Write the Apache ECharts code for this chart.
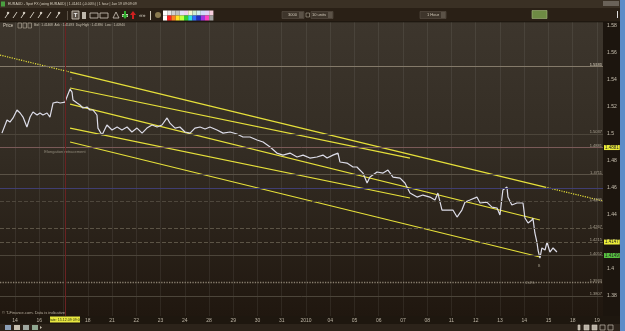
<!DOCTYPE html>
<html><head><meta charset="utf-8">
<script src="https://cdn.jsdelivr.net/npm/echarts@6/dist/echarts.min.js"></script>
<style>html,body{margin:0;padding:0;background:#2a2118;}#c{width:625px;height:331px;}</style>
</head><body><div id="c"></div>
<script>
// ---------- data ----------
const dayLabels = ['14','16','17','18','21','22','23','24','28','29','30','31','2010','04','05','06','07','08','11','12','13','14','15','18','19'];
const priceTicks = [1.38,1.40,1.42,1.44,1.46,1.48,1.50,1.52,1.54,1.56,1.58];
// trading days since first label, and price
const t = [-0.54,-0.41,-0.33,-0.21,-0.08,0.08,0.21,0.33,0.49,0.62,0.74,0.91,1.03,1.15,1.32,1.44,1.57,1.73,1.86,2.06,2.14,2.27,2.35,2.39,2.56,2.68,2.80,2.97,3.09,3.22,3.38,3.42,3.59,3.79,4.00,4.21,4.41,4.62,4.82,5.03,5.24,5.44,5.65,5.86,6.06,6.27,6.39,6.60,6.80,7.01,7.22,7.42,7.63,7.84,8.04,8.33,8.58,8.87,9.15,9.40,9.69,9.98,10.23,10.52,10.80,11.05,11.34,11.63,11.88,12.16,12.45,12.70,12.87,13.11,13.32,13.40,13.69,13.94,14.10,14.35,14.52,14.64,14.93,15.18,15.38,15.59,15.88,16.08,16.29,16.58,16.82,17.11,17.32,17.44,17.61,17.81,18.06,18.23,18.43,18.56,18.76,19.05,19.18,19.46,19.67,19.88,20.00,20.12,20.29,20.33,20.49,20.70,20.95,21.03,21.16,21.32,21.36,21.44,21.53,21.57,21.65,21.73,21.86,21.94,22.06,22.19,22.35];
const price = [1.5007,1.5067,1.5104,1.5089,1.5119,1.5178,1.5156,1.5126,1.5052,1.5126,1.5163,1.5141,1.5156,1.5141,1.5156,1.5126,1.5230,1.5237,1.5230,1.5237,1.5274,1.5333,1.5311,1.5252,1.5230,1.5215,1.5193,1.5200,1.5178,1.5178,1.5141,1.5044,1.4993,1.5067,1.5030,1.5052,1.5030,1.5052,1.5015,1.5044,1.5007,1.5044,1.5067,1.5052,1.5067,1.5119,1.5081,1.5044,1.5052,1.5015,1.5007,1.5044,1.5052,1.5037,1.5052,1.5030,1.5007,1.5015,1.5000,1.4978,1.4978,1.4956,1.4941,1.4904,1.4859,1.4844,1.4859,1.4830,1.4844,1.4822,1.4830,1.4844,1.4822,1.4844,1.4859,1.4793,1.4785,1.4756,1.4756,1.4711,1.4637,1.4681,1.4719,1.4711,1.4733,1.4681,1.4674,1.4637,1.4563,1.4533,1.4548,1.4533,1.4511,1.4563,1.4437,1.4437,1.4437,1.4385,1.4437,1.4496,1.4511,1.4533,1.4489,1.4496,1.4459,1.4452,1.4400,1.4585,1.4607,1.4533,1.4474,1.4489,1.4489,1.4378,1.4341,1.4363,1.4378,1.4267,1.4193,1.4141,1.4081,1.4156,1.4141,1.4200,1.4126,1.4156,1.4126];
// trend lines [t, price] end points
const rayLeft  = [[-0.62,1.5585],[2.27,1.5459]];
const rayMain  = [[2.27,1.5459],[21.86,1.4607]];
const rayRight = [[21.86,1.4607],[24.25,1.4504]];
const fork2 = [[2.27,1.5341],[16.29,1.4822]];
const fork3 = [[2.27,1.5222],[21.65,1.4363]];
const fork4 = [[2.27,1.5044],[16.29,1.4526]];
const fork5 = [[2.27,1.4941],[21.65,1.4089]];
// horizontal level lines
const levels = [1.5533,1.5481,1.5037,1.5000,1.4881,1.4711,1.4489,1.4267,1.4215,1.4052,1.3933,1.3807];
const levelLabels = ['1.5533','1.5481','1.5037','','1.4881','1.4711','1.4489','1.4267','1.4215','1.4052','1.3933','1.3807'];
const crossT = 2.06, crossP = 1.4593;
const bidLabel = '1.4147', askLabel = '1.4149', markLabel = '1.4881';
const bidP = 1.4152, askP = 1.4120;
const notes = [{name:'0', value:[2.31,1.5407]},{name:'B', value:[21.61,1.4022]},{name:'2.4%', value:[21.24,1.3896]},{name:'Elongation retracement', value:[2.06,1.4870]}];

// ---------- styles ----------
const FONT = 'Liberation Sans';
const levelStyles = [
 {color:'#7a7062',type:'dashed',width:1},{color:'#847a6a',type:'solid',width:1},{color:'#6c6354',type:'solid',width:1},
 {color:'#4c453a',type:'solid',width:1},{color:'#7a5a58',type:'solid',width:1},{color:'#5a5246',type:'solid',width:1},
 {color:'#4e473c',type:'dashed',width:1},{color:'#5c5446',type:'dashed',width:1},{color:'#5c5446',type:'dashed',width:1},
 {color:'#4c453a',type:'solid',width:1},{color:'#8a8070',type:'dotted',width:1.3},{color:'#4c453a',type:'solid',width:1}
];
const YEL = '#e6e03a';

const markData = [];
dayLabels.forEach((_,i)=>markData.push({xAxis:i, lineStyle:{color:'rgba(255,255,255,0.07)',type:'solid',width:1}, label:{show:false}}));
levels.forEach((v,i)=>markData.push({yAxis:v, lineStyle:levelStyles[i], label:{show:!!levelLabels[i], formatter:levelLabels[i]||' ', position:'insideEndTop', color:'#aaa292', fontSize:4, fontFamily:FONT, distance:[1,0]}}));
markData.push({xAxis:crossT, lineStyle:{color:'#6a2222',type:'solid',width:1}, label:{show:false}});
markData.push({yAxis:crossP, lineStyle:{color:'#403e72',type:'solid',width:1}, label:{show:false}});
const boxLine = {color:'rgba(0,0,0,0)', width:0};
markData.push({yAxis:1.4881, lineStyle:boxLine, label:{show:true, position:'end', formatter:markLabel, backgroundColor:'#ecec3a', color:'#222', fontSize:4.5, fontFamily:FONT, padding:[0,1], distance:1}});
markData.push({yAxis:bidP, lineStyle:boxLine, label:{show:true, position:'end', formatter:bidLabel, backgroundColor:'#ecec3a', color:'#222', fontSize:4.5, fontFamily:FONT, padding:[0,1], distance:1}});
markData.push({yAxis:askP, lineStyle:boxLine, label:{show:true, position:'end', formatter:askLabel, backgroundColor:'#58c040', color:'#222', fontSize:4.5, fontFamily:FONT, padding:[0,1], distance:1}});

function seg(d, type){
  return {type:'line', data:d, symbol:'none', silent:true, z:3, animation:false,
    lineStyle:{color:YEL, width:1.2, type:type||'solid'}};
}

// ---------- chrome ----------
const g = [];
g.push({type:'rect', z:-20, shape:{x:0,y:0,width:625,height:331}, style:{fill:'#2a2118'}});
g.push({type:'rect', z:-19, shape:{x:0,y:22,width:603,height:294}, style:{fill:new echarts.graphic.LinearGradient(0,0,0,1,[{offset:0,color:'#3d362d'},{offset:0.45,color:'#332c23'},{offset:1,color:'#20170f'}])}});
g.push({type:'rect', z:-19, shape:{x:603,y:22,width:17,height:296}, style:{fill:'#1c150e'}});
g.push({type:'rect', z:-19, shape:{x:620,y:0,width:5,height:331}, style:{fill:'#5d8cc8'}});
g.push({type:'rect', z:-19, shape:{x:0,y:316,width:620,height:8}, style:{fill:'#1e170f'}});
g.push({type:'rect', z:-19, shape:{x:0,y:324,width:620,height:7}, style:{fill:'#2c231a'}});
// title bar
g.push({type:'rect', z:50, shape:{x:0,y:0,width:620,height:8}, style:{fill:'#3a3024'}});
g.push({type:'rect', z:51, shape:{x:1,y:1.5,width:4,height:5}, style:{fill:'#4aa040'}});
g.push({type:'text', z:51, x:8, y:4, style:{text:'EURAUD - Spot FX (using EURAUD) | 1.41461 (-0.00%) | 1 hour | Jan 19 09:09:09', fill:'#d6cebe', font:'3.5px '+FONT, verticalAlign:'middle'}});
g.push({type:'rect', z:51, shape:{x:603,y:1,width:16,height:5}, style:{fill:'#6a6258'}});
// toolbar
g.push({type:'rect', z:50, shape:{x:0,y:8,width:620,height:14}, style:{fill:'#2a2016'}});
g.push({type:'rect', z:50, shape:{x:0,y:21.5,width:620,height:0.8}, style:{fill:'#15100a'}});
[7,15,23,32,40,49,58].forEach((x,i)=>{
  g.push({type:'line', z:51, shape:{x1:x-2,y1:18,x2:x+2,y2:12}, style:{stroke:'#cfc8bc', lineWidth:1}});
  if(i%2===0) g.push({type:'circle', z:51, shape:{cx:x+1,cy:13,r:1.2}, style:{fill:'#cfc8bc'}});
});
g.push({type:'rect', z:51, shape:{x:67,y:11,width:0.8,height:9}, style:{fill:'#6a6055'}});
g.push({type:'rect', z:51, shape:{x:72,y:11,width:7,height:8}, style:{fill:'#5a5046', stroke:'#d8d0c4', lineWidth:0.8}});
g.push({type:'text', z:52, x:75.5, y:15, style:{text:'T', fill:'#eee', font:'bold 6px '+FONT, align:'center', verticalAlign:'middle'}});
g.push({type:'rect', z:51, shape:{x:82,y:12,width:4,height:7}, style:{fill:'#bdb6aa'}});
g.push({type:'rect', z:51, shape:{x:90,y:13,width:8,height:5}, style:{fill:'none', stroke:'#d0c8bc', lineWidth:0.8}});
g.push({type:'rect', z:51, shape:{x:100,y:13,width:8,height:5}, style:{fill:'none', stroke:'#d0c8bc', lineWidth:0.8}});
g.push({type:'polygon', z:51, shape:{points:[[113,18],[116,12],[119,18]]}, style:{fill:'none', stroke:'#d0c8bc', lineWidth:0.8}});
g.push({type:'rect', z:51, shape:{x:122,y:14,width:6,height:3}, style:{fill:'#d0c8bc'}});
g.push({type:'polygon', z:51, shape:{points:[[125,19],[122,15],[124,15],[124,11],[126,11],[126,15],[128,15]]}, style:{fill:'#30b030'}});
g.push({type:'polygon', z:51, shape:{points:[[133,11],[130,15],[132,15],[132,19],[134,19],[134,15],[136,15]]}, style:{fill:'#d02020'}});
g.push({type:'text', z:51, x:139, y:15, style:{text:'«»', fill:'#cfc8bc', font:'6px '+FONT, verticalAlign:'middle'}});
g.push({type:'rect', z:51, shape:{x:150,y:11,width:1,height:9}, style:{fill:'#cfc8bc'}});
g.push({type:'circle', z:51, shape:{cx:158,cy:15,r:3}, style:{fill:'#8a7a50'}});
const pal1 = ['#ffffff','#e8e8e8','#d0d0d0','#c0c0c0','#e0e0f8','#f0d0f0','#f8f8d0','#d0f0d0','#d0f0f0','#d0d8f8','#e0d0f8','#f8d0e0'];
const pal2 = ['#ffffff','#ff2020','#ff8020','#ffe020','#c0ff40','#30d030','#30e0e0','#3070ff','#2030c0','#a030e0','#ff40c0','#a0a0a0'];
pal1.forEach((c,i)=>g.push({type:'rect', z:51, shape:{x:163+i*4.2,y:10.5,width:4.2,height:5}, style:{fill:c}}));
pal2.forEach((c,i)=>g.push({type:'rect', z:51, shape:{x:163+i*4.2,y:15.5,width:4.2,height:5}, style:{fill:c}}));
function combo(x,w,txt){
  g.push({type:'rect', z:51, shape:{x:x,y:11.5,width:w,height:7}, style:{fill:'#3e352b', stroke:'#5a5046', lineWidth:0.6}});
  g.push({type:'rect', z:52, shape:{x:x+w-5,y:12,width:4.5,height:6}, style:{fill:'#5b5247'}});
  g.push({type:'text', z:52, x:x+w-7, y:15, style:{text:txt, fill:'#d0c8b8', font:'4px '+FONT, align:'right', verticalAlign:'middle'}});
}
combo(282,22,'3000');
g.push({type:'rect', z:51, shape:{x:306,y:13,width:3.5,height:4}, style:{fill:'none', stroke:'#b0a898', lineWidth:0.6}});
combo(311,22,'10 units');
combo(420,26,'1 Hour');
g.push({type:'rect', z:51, shape:{x:532,y:10.5,width:15,height:8}, style:{fill:'#6e8a44', stroke:'#a8b880', lineWidth:0.6}});
g.push({type:'rect', z:51, shape:{x:617,y:11,width:1,height:7}, style:{fill:'#e0e0e0'}});
// price info row
g.push({type:'text', z:51, x:3, y:25.5, style:{text:'Price', fill:'#d2cabb', font:'4.5px '+FONT, verticalAlign:'middle'}});
g.push({type:'rect', z:51, shape:{x:18,y:23,width:3.5,height:5}, style:{fill:'none', stroke:'#b8b0a0', lineWidth:0.6}});
g.push({type:'rect', z:51, shape:{x:23,y:23,width:3.5,height:5}, style:{fill:'none', stroke:'#b8b0a0', lineWidth:0.6}});
g.push({type:'rect', z:51, shape:{x:28,y:23,width:3.5,height:5}, style:{fill:'none', stroke:'#b8b0a0', lineWidth:0.6}});
g.push({type:'text', z:51, x:34, y:25.5, style:{text:'Bid : 1.41468  Ask : 1.41493  Day High : 1.41890  Low : 1.40940', fill:'#c8c0b0', font:'3.2px '+FONT, verticalAlign:'middle'}});
// footer
g.push({type:'text', z:51, x:2, y:313, style:{text:'© T-Finance.com. Data is indicative', fill:'#b4ac9c', font:'4px '+FONT, verticalAlign:'middle'}});
g.push({type:'rect', z:51, shape:{x:50,y:316.5,width:30,height:6}, style:{fill:'#e8e840'}});
g.push({type:'text', z:52, x:65, y:319.5, style:{text:'Date: 15.12.09 09:00', fill:'#2a2a10', font:'3.6px '+FONT, align:'center', verticalAlign:'middle'}});
[5,14,23,32].forEach((x,i)=>g.push({type:'rect', z:51, shape:{x:x,y:325,width:6,height:5}, style:{fill:['#8ca0b8','#c8c0b0','#a0a8a0','#90a890'][i]}}));
g.push({type:'polygon', z:51, shape:{points:[[40,326],[42,327.5],[40,329]]}, style:{fill:'#c8c0b0'}});
[578,584,592,600,608].forEach((x,i)=>g.push({type:'rect', z:51, shape:{x:x,y:325,width:i===0?2:5,height:5}, style:{fill:i>2?'none':'#b8b0a4', stroke:'#d8d0c4', lineWidth:0.6}}));

// ---------- chart ----------
const chart = echarts.init(document.getElementById('c'));
chart.setOption({
  animation:false,
  backgroundColor:'transparent',
  graphic:{elements:g},
  grid:{left:0, right:22, top:22, bottom:15},
  xAxis:{type:'value', min:-0.62, max:24.25,
    axisLine:{show:false}, axisTick:{show:false}, splitLine:{show:false},
    axisLabel:{customValues:dayLabels.map((_,i)=>i), formatter:v=>dayLabels[Math.round(v)], color:'#bdb5a5', fontSize:5, fontFamily:FONT, margin:2}},
  yAxis:{type:'value', position:'right', min:1.3652, max:1.5830, scale:true,
    axisLine:{show:false}, axisTick:{show:false}, splitLine:{show:false},
    axisLabel:{customValues:priceTicks, formatter:v=>String(+(+v).toFixed(2)), color:'#c8c0b0', fontSize:5, fontFamily:FONT, margin:4}},
  series:[
    {type:'line', data:[], silent:true, markLine:{silent:true, symbol:'none', animation:false, data:markData}},
    seg(rayLeft,'dotted'), seg(rayMain), seg(rayRight,'dotted'),
    seg(fork2), seg(fork3), seg(fork4), seg(fork5),
    {type:'line', name:'price', data:t.map((x,i)=>[x,price[i]]), symbol:'none', z:4, silent:true,
      lineStyle:{color:'#dcdce8', width:1.2}},
    {type:'scatter', data:notes, symbolSize:0, silent:true, z:5,
      label:{show:true, formatter:'{b}', position:'inside', color:'#a8a090', fontSize:4, fontFamily:FONT}}
  ]
});
</script></body></html>
